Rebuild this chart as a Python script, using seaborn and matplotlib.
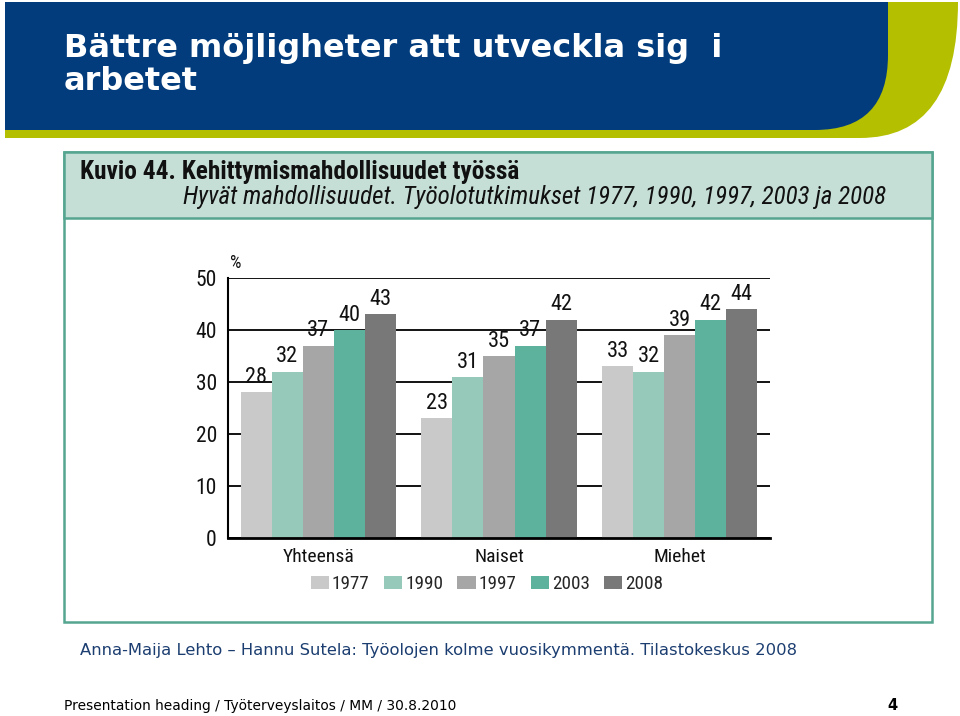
import matplotlib
matplotlib.use('Agg')
import matplotlib.pyplot as plt
import matplotlib.font_manager as fm
import seaborn as sns
import pandas as pd
from matplotlib.path import Path
from matplotlib.patches import PathPatch, Rectangle

groups = ['Yhteensä', 'Naiset', 'Miehet']
years = ['1977', '1990', '1997', '2003', '2008']
v1977 = [28, 23, 33]
v1990 = [32, 31, 32]
v1997 = [37, 35, 39]
v2003 = [40, 37, 42]
v2008 = [43, 42, 44]
yticks = [0, 10, 20, 30, 40, 50]
colors = ['#c9c9c9', '#96c9b9', '#a6a6a6', '#5db29d', '#787878']

series = [v1977, v1990, v1997, v2003, v2008]
df = pd.DataFrame({
    'group': [g for s in series for g in groups],
    'year': [y for y, s in zip(years, series) for _ in s],
    'value': [v for s in series for v in s],
})

sns.set_theme(style='white')

names = {f.name for f in fm.fontManager.ttflist}
narrow = None
for cand in ['Liberation Sans Narrow', 'Roboto Condensed', 'Open Sans Condensed',
             'DejaVu Sans Condensed', 'Noto Sans Condensed']:
    if cand in names:
        narrow = cand
        break
if narrow:
    FAM = [narrow, 'DejaVu Sans']
    S = dict(t1=18.3, t2=18.0, val=16, tick=15.5, cat=14, leg=13.8, pct=13)
else:
    FAM = ['DejaVu Sans']
    S = dict(t1=13.2, t2=14.2, val=12.5, tick=13.5, cat=12.5, leg=12, pct=12)
plt.rcParams['font.family'] = FAM

fig = plt.figure(figsize=(9.6, 7.16), dpi=100)
fig.patch.set_facecolor('white')

bg = fig.add_axes([0, 0, 1, 1])
bg.set_xlim(0, 960)
bg.set_ylim(716, 0)
bg.axis('off')

# header shapes
lime = Path([(5, 2), (958, 2), (958, 138), (860, 138), (5, 138), (5, 2)],
            [Path.MOVETO, Path.LINETO, Path.CURVE3, Path.CURVE3, Path.LINETO, Path.CLOSEPOLY])
bg.add_patch(PathPatch(lime, facecolor='#b4bf00', edgecolor='none'))
blue = Path([(5, 2), (888, 2), (888, 55), (888, 130), (815, 130), (5, 130), (5, 2)],
            [Path.MOVETO, Path.LINETO, Path.LINETO, Path.CURVE3, Path.CURVE3, Path.LINETO, Path.CLOSEPOLY])
bg.add_patch(PathPatch(blue, facecolor='#023c7c', edgecolor='none'))

bg.text(64, 48, 'Bättre möjligheter att utveckla sig  i', color='white', fontsize=23,
        fontweight='bold', family=['DejaVu Sans'], va='center', ha='left')
bg.text(64, 82, 'arbetet', color='white', fontsize=23,
        fontweight='bold', family=['DejaVu Sans'], va='center', ha='left')

# chart frame
bg.add_patch(Rectangle((64, 152), 868, 470, facecolor='white', edgecolor='#55a590', lw=1.8))
bg.add_patch(Rectangle((64, 152), 868, 66, facecolor='#c6dfd6', edgecolor='#55a590', lw=1.8))
bg.text(80, 172, 'Kuvio 44. Kehittymismahdollisuudet työssä', fontsize=S['t1'], fontweight='bold',
        color='#111111', va='center', ha='left')
bg.text(183, 197, 'Hyvät mahdollisuudet. Työolotutkimukset 1977, 1990, 1997, 2003 ja 2008',
        fontsize=S['t2'], fontstyle='italic', color='#111111', va='center', ha='left')
bg.text(230, 263, '%', fontsize=S['pct'], color='#111111', va='center', ha='left')

# footer
bg.text(80, 650, 'Anna-Maija Lehto – Hannu Sutela: Työolojen kolme vuosikymmentä. Tilastokeskus 2008',
        fontsize=11.8, color='#1b3d70', family=['DejaVu Sans'], va='center', ha='left')
bg.text(64, 706, 'Presentation heading / Työterveyslaitos / MM / 30.8.2010',
        fontsize=9.9, color='black', family=['DejaVu Sans'], va='center', ha='left')
bg.text(898, 706, '4', fontsize=10.5, fontweight='bold', color='black', family=['DejaVu Sans'],
        va='center', ha='right')

# bar chart
ax = fig.add_axes([228 / 960, 178 / 716, 542 / 960, 260 / 716])
ax.set_facecolor('white')
sns.barplot(data=df, x='group', y='value', hue='year', order=groups, hue_order=years,
            palette=colors, saturation=1, width=0.86, errorbar=None, linewidth=0, ax=ax)
ax.set_xlim(-0.5, 2.5)
ax.set_ylim(0, 50)
ax.set_yticks(yticks)
ax.yaxis.grid(True, color='black', lw=1.3)
ax.set_axisbelow(True)
for s in ['top', 'right']:
    ax.spines[s].set_visible(False)
ax.spines['left'].set_color('black')
ax.spines['left'].set_linewidth(1.5)
ax.spines['bottom'].set_color('black')
ax.spines['bottom'].set_linewidth(2)
ax.tick_params(axis='y', length=0, labelsize=S['tick'], colors='#111111', pad=8)
ax.tick_params(axis='x', length=0, labelsize=S['cat'], colors='#111111', pad=7)
ax.set_xlabel('')
ax.set_ylabel('')
for c in ax.containers:
    ax.bar_label(c, padding=3, fontsize=S['val'], color='#111111')

handles, labels = ax.get_legend_handles_labels()
ax.legend(handles, labels, loc='center', bbox_to_anchor=(487 / 960, 1 - 584 / 716),
          bbox_transform=fig.transFigure, ncol=5, frameon=False, fontsize=S['leg'],
          handlelength=0.95, handleheight=0.65, handletextpad=0.15, columnspacing=0.75)

fig.savefig('out.png', dpi=100)
